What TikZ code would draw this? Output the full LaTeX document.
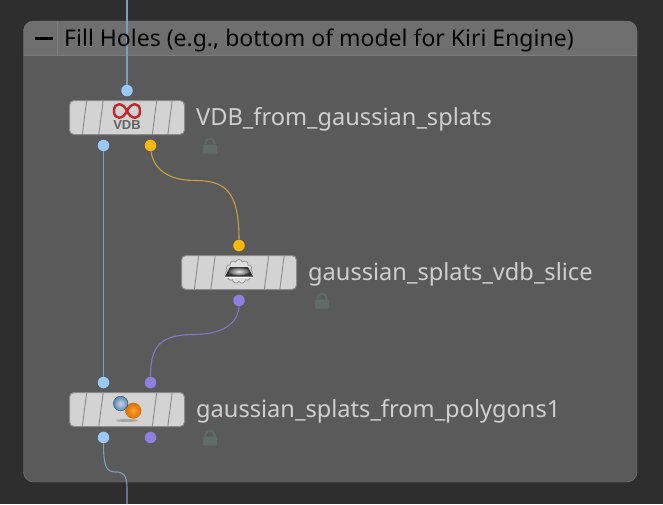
\documentclass[tikz,border=0pt]{standalone}
\usepackage{fontspec}
\setmainfont{Noto Sans}
\newfontfamily\iconfont{Liberation Sans}
\usepackage{xcolor}
\usetikzlibrary{positioning, calc, shapes.symbols}
\definecolor{canvas}{HTML}{2E2E2E}
\definecolor{boxbody}{HTML}{5A5A5A}
\definecolor{boxhead}{HTML}{6F6F6F}
\definecolor{boxline}{HTML}{7C7C7C}
\definecolor{nodefill}{HTML}{D3D3D3}
\definecolor{nodeline}{HTML}{8A8A8A}
\definecolor{labeltext}{HTML}{CFCFCF}
\definecolor{geoport}{HTML}{99C8FF}
\definecolor{volport}{HTML}{FFB800}
\definecolor{ptsport}{HTML}{8F7FE0}
\definecolor{geowire}{HTML}{7F9DBF}
\definecolor{volwire}{HTML}{C9A040}
\definecolor{ptswire}{HTML}{8577C4}
\definecolor{lockcol}{HTML}{606C67}
\definecolor{ballblueA}{HTML}{C4D6EA}
\definecolor{ballblueB}{HTML}{5E86B2}
\definecolor{ballblueC}{HTML}{2F4A6B}
\definecolor{ballorgA}{HTML}{FFA030}
\definecolor{ballorgB}{HTML}{D96F00}
\definecolor{vdbred}{HTML}{C4262C}
\tikzstyle{sop} = [draw=nodeline, line width=1pt, fill=nodefill, rounded corners=4.5pt, minimum width=115pt, minimum height=34pt, inner sep=0pt]
\tikzstyle{port} = [circle, minimum size=11.5pt, inner sep=0pt]
\tikzstyle{geo} = [port, fill=geoport]
\tikzstyle{vol} = [port, fill=volport]
\tikzstyle{pts} = [port, fill=ptsport]
\tikzstyle{sopname} = [text=labeltext, font=\fontsize{23.6}{27}\selectfont, inner sep=0pt, yshift=-1.5pt]
\tikzstyle{wire} = [draw, line width=1.1pt]
\tikzset{
  lockicon/.pic={
    \fill[lockcol, rounded corners=1pt] (-7,-8) rectangle (7,1);
    \draw[lockcol, line width=1.8pt] (-4.5,1) -- (-4.5,2.5) arc (180:0:4.5) -- (4.5,1);
  }
}
\newcommand{\stripes}[1]{
  \foreach \pos in {-42.5,-26,27.5,43}
    \draw[nodeline, line width=.9pt] ($(#1.center)+(\pos+2.2,17)$) -- ($(#1.center)+(\pos-2.2,-17)$);
}
\begin{document}
\begin{tikzpicture}[x=1pt, y=1pt]
    \useasboundingbox (0,0) rectangle (663,-504);
    \fill[canvas] (0,0) rectangle (663,-504);

    % network box
    \draw[boxline, fill=boxbody, rounded corners=10pt] (23.5,-21) rectangle (637,-482);
    \fill[boxhead] (23.5,-55.5) -- (23.5,-31) arc (180:90:10) -- (627,-21) arc (90:0:10) -- (637,-55.5) -- cycle;
    \draw[boxline] (23.5,-55.5) -- (637,-55.5);
    \draw[boxline] (57.5,-21) -- (57.5,-55.5);
    \fill[black] (35,-37) rectangle (53,-40);

    % nodes
    \node (vdb) [sop] at (127,-117.5) {};
    \node (slice) [sop, below right=120pt and -4pt of vdb] {};
    \node (poly) [sop, below=257pt of vdb] {};
    \stripes{vdb}
    \stripes{slice}
    \stripes{poly}

    % names
    \node (vdbname) [sopname, right=11pt of vdb] {VDB\_from\_gaussian\_splats};
    \node (slicename) [sopname, right=11pt of slice] {gaussian\_splats\_vdb\_slice};
    \node (polyname) [sopname, right=11pt of poly] {gaussian\_splats\_from\_polygons1};

    % ports
    \node (vdbin) [geo, above=3.5pt of vdb] {};
    \node (vdbgeo) [geo, below=4.5pt of vdb, xshift=-23.5pt] {};
    \node (vdbvol) [vol, below=4.5pt of vdb, xshift=23.5pt] {};
    \node (slicein) [vol, above=3.5pt of slice] {};
    \node (sliceout) [pts, below=4.5pt of slice] {};
    \node (polygeo) [geo, above=3.5pt of poly, xshift=-23.5pt] {};
    \node (polypts) [pts, above=3.5pt of poly, xshift=23.5pt] {};
    \node (polyout) [geo, below=4.5pt of poly, xshift=-23.5pt] {};
    \node (polyaux) [pts, below=4.5pt of poly, xshift=23.5pt] {};
    \coordinate (wiretop) at (vdbin |- 0,0);
    \coordinate (wirebot) at (127,-504);

    % wires
    \draw [wire, geowire] (wiretop) -- (vdbin);
    \draw [wire, geowire] (vdbgeo) -- (polygeo);
    \draw [wire, volwire] (vdbvol) .. controls ($(vdbvol)+(2,-20)$) and ($(vdbvol)+(14,-35)$) .. ($(vdbvol)+(44,-35)$) .. controls ($(slicein)+(-14,65)$) and ($(slicein)+(0,55)$) .. (slicein);
    \draw [wire, ptswire] (sliceout) .. controls ($(sliceout)+(0,-18)$) and ($(sliceout)+(-11,-34)$) .. ($(sliceout)+(-44,-34)$) .. controls ($(polypts)+(10,48)$) and ($(polypts)+(0,37)$) .. (polypts);
    \draw [wire, geowire] (polyout) .. controls ($(polyout)+(0,-28)$) and ($(polyout)+(2.5,-34.5)$) .. ($(polyout)+(11.5,-34.5)$) .. controls ($(wirebot)+(-3,32.5)$) and ($(wirebot)+(0,28)$) .. ($(wirebot)+(0,16)$) -- (wirebot);

    % title goes over the wire
    \node (title) [anchor=base west, inner sep=0pt, text=black, font=\fontsize{23}{27}\selectfont] at (64,-46) {Fill Holes (e.g., bottom of model for Kiri Engine)};

    % locks
    \pic at ($(vdbname.west)+(14,-26.5)$) {lockicon};
    \pic at ($(slicename.west)+(14,-26.5)$) {lockicon};
    \pic at ($(polyname.west)+(14,-26.5)$) {lockicon};

    % vdb icon
    \begin{scope}[shift={(vdb.center)}]
      \draw[vdbred, line width=2.4pt] (0,6.5) .. controls (4,15.5) and (13,15.5) .. (13,6.5) .. controls (13,-2.5) and (4,-2.5) .. (0,6.5) .. controls (-4,15.5) and (-13,15.5) .. (-13,6.5) .. controls (-13,-2.5) and (-4,-2.5) .. cycle;
      \node (vdbtag) [inner sep=0pt, text=black!62, font=\iconfont\bfseries\fontsize{13}{14}\selectfont] at (0,-7.5) {VDB};
    \end{scope}

    % slice icon
    \begin{scope}[shift={(slice.center)}]
      \node (cloudicon) [cloud, cloud puffs=11, aspect=1.15, draw=black!45, fill=black!12, line width=.7pt, minimum width=27pt, minimum height=24pt, inner sep=0pt] at (0,1) {};
      \fill[black!80] (-9,5.5) -- (9,5.5) -- (14,-4) -- (-14,-4) -- cycle;
      \shade[inner color=black!8, outer color=black!65] (0,1) ellipse (10 and 4);
      \draw[white, line width=.9pt] (-14,-4.8) -- (14,-4.8);
    \end{scope}

    % polygons icon
    \begin{scope}[shift={(poly.center)}]
      \fill[black!35] (0,-11) ellipse (11 and 1.5);
      \shade[inner color=ballorgA, outer color=ballorgB] (6.3,-1.2) circle (8);
      \shade[inner color=ballblueA, outer color=ballblueB, draw=ballblueC] (-6.3,6) circle (7.3);
    \end{scope}
\end{tikzpicture}
\end{document}
